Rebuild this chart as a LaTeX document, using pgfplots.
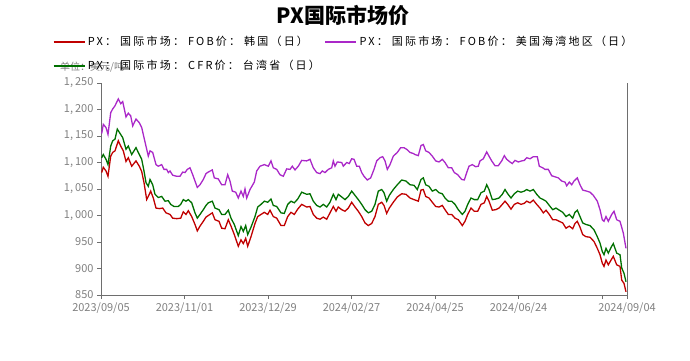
\documentclass[border=0pt]{standalone}
\usepackage{fontspec}
\setmainfont{Noto Sans CJK SC}
\newfontfamily\legfont{Noto Sans CJK SC}[LetterSpace=20]
\usepackage{pgfplots}
\usepackage{pgfplotstable}
\pgfplotsset{compat=1.18}
\definecolor{cred}{RGB}{192,0,0}
\definecolor{cpur}{RGB}{170,40,200}
\definecolor{cgrn}{RGB}{0,112,0}
\definecolor{axgray}{RGB}{110,110,110}
\definecolor{lblgray}{RGB}{128,128,128}
\newcommand\cc{：\hspace{4pt}}

\pgfplotstableread{
x y
101.7 1154.7
103.3 1172
106 1166
108 1153
110.7 1194
112.7 1201
115 1207
118.3 1220
120.7 1211
122.7 1215
126 1186
128.3 1193
130.7 1188
132.7 1169
136 1182
139.3 1175
141.7 1166
144 1147
146.7 1125
148.3 1112
150 1122
152.7 1119
156 1096
158.3 1093
161.7 1096
164 1087
166.7 1087
168.3 1081
170 1084
172.7 1076
176.7 1074
180 1074
182.7 1082
185 1081
187.3 1087
190 1090
192.7 1077
195 1065
197.3 1053
200 1058
203.3 1068
206 1079
208.3 1082
212.3 1086
214.3 1071
218.3 1069
221.7 1058
225 1058
227.7 1077
230 1065
232.3 1046
235.7 1044
238.3 1033
241 1046
243.3 1036
245 1050
246.7 1033
250 1049
254.3 1063
256.7 1084
260 1093
264.3 1096
268.3 1093
271 1103
273.3 1090
276.7 1087
280 1077
283.3 1074
286.7 1088
290 1087
292.3 1093
295 1086
298.3 1093
301.7 1104
306.7 1103
310 1106
313.3 1090
316.7 1081
320 1079
322.3 1084
325 1081
328.3 1087
331.7 1090
333.3 1103
335 1093
337.3 1101
341.7 1100
343.3 1093
346.7 1100
349.3 1098
351.7 1107
354 1106
356.7 1093
359.3 1093
361.7 1081
364 1074
367.3 1067
370.7 1071
374 1087
376.7 1103
380 1109
382.7 1111
385 1103
387.3 1087
390 1096
393.3 1112
397.3 1119
400.7 1128
404 1128
407.3 1124
410 1119
413.3 1117
415 1115
418.3 1113
421 1132
423.3 1134
425.7 1122
429 1119
432.3 1112
435.7 1103
439 1101
442.3 1106
445 1100
448.3 1090
451.7 1090
454.3 1081
457.7 1077
461.7 1068
464.3 1067
466.7 1081
469 1093
472.3 1096
475.7 1092
478.3 1093
480 1103
483.3 1107
486.7 1120
489 1112
491.7 1103
495 1094
498.3 1094
501.7 1103
504.3 1113
506.7 1106
510 1101
512.3 1098
515 1104
518.3 1101
521.7 1103
524.3 1104
526.7 1109
530 1107
533.3 1111
537.3 1111
539.3 1093
542.7 1090
545 1087
548.3 1087
551.7 1075
555 1073
558.3 1071
561.7 1065
565 1063
566.7 1056
569.3 1063
571.7 1058
574 1065
577.3 1071
580 1058
582.7 1048
586.7 1046
590 1044
593.3 1038
597.3 1027
600 1011
602.3 992
604 989
606 998
608.3 989
611.7 1002
614 1008
616.7 992
620 989
623.3 967
626 938
}\usgulf

\pgfplotstableread{
x y
101.7 1109
103.3 1115
106 1106
108 1096
110.7 1131
112.7 1141
115 1144
117.3 1163
119.3 1157
122.7 1147
126 1125
128.3 1131
131.7 1115
136 1128
139.3 1115
141.7 1106
144 1084
146 1062
148.3 1055
150 1068
152.7 1058
155 1040
158.3 1034
161.7 1036
165 1027
168.3 1028
170.7 1021
174 1017
178.3 1017
180.7 1021
183.3 1030
186 1027
188.3 1030
191.7 1024
195 1005
197.3 995
200 1002
203.3 1011
206 1019
208.3 1024
212.3 1027
215 1014
219 1011
221.7 1002
225 1002
228.3 1010
231 995
234.3 983
238.3 962
241 979
243.3 970
245.7 981
247.7 964
251 978
255 998
257.7 1016
261 1021
264.3 1027
267.7 1025
271 1031
273.3 1019
276.7 1017
281 1005
284.3 1004
287.7 1021
291 1027
294.3 1024
297.7 1031
301.7 1044
306.7 1040
310 1041
313.3 1027
316.7 1019
320 1016
323.3 1021
326.7 1016
330 1025
333.3 1040
336 1030
338.3 1040
341.7 1035
345 1030
348.3 1036
351.7 1046
355 1038
358.3 1030
361.7 1021
365 1011
368.3 1005
371.7 1008
375 1021
378.3 1046
381.7 1049
384 1043
386.7 1027
389.3 1038
393.3 1049
397.3 1058
401.7 1067
406 1065
410 1058
414 1057
417.3 1049
421 1068
423.3 1071
425.7 1058
429 1055
432.3 1046
435.7 1049
439 1043
442.3 1041
445 1033
448.3 1027
451.7 1027
455 1021
458.3 1011
462.3 1002
465 1008
467.7 1021
471 1033
474.3 1030
477.7 1030
481 1043
484.3 1046
486.7 1058
489 1049
492.3 1030
495.7 1031
499 1033
502.3 1040
505 1049
507.7 1041
511 1033
514.3 1041
517.7 1046
521 1044
524.3 1046
526.7 1049
530 1046
533.3 1049
536.7 1040
540 1033
543.3 1030
546 1027
549.3 1019
552.7 1011
556 1014
559.3 1010
562.7 1006
566 998
569.3 1002
572.7 995
575 1006
577.3 1010
580 998
582.7 986
586 983
590 981
594 973
597.3 960
600 948
602.3 932
604 926
606 938
608.3 929
611.7 942
613.3 947
616.7 929
620 926
621.7 901
624 891
626 875
}\taiwan

\pgfplotstableread{
x y
101.7 1081
103.3 1091
106 1084
108 1074
110.7 1112
112.7 1119
115 1122
118.3 1141
120.7 1131
123.3 1122
126 1102
128.3 1109
131.7 1093
136 1103
139.3 1093
141.7 1083
144 1062
146.7 1030
149.3 1040
150.7 1046
153.3 1033
156 1014
159.3 1013
162.7 1014
166 1005
170 1002
172.7 995
176.7 994
180.7 995
183.3 1007
186 1002
188.3 1009
191.7 998
195 983
197.3 971
200 980
203.3 989
206 997
208.3 1000
212.3 1005
215 992
219 989
221.7 976
225 975
228.3 992
231 980
234.3 964
238.3 942
241 954
243.3 947
245.7 957
247.7 942
251 960
255 985
257.7 998
261 1002
264.3 1006
267.7 1002
270 1010
273.3 998
276.7 995
281 981
284.3 981
287.7 998
291 1006
294.3 1002
297.7 1012
301.7 1021
306.7 1016
310 1017
313.3 1002
316.7 995
320 993
323.3 997
326.7 993
330 1005
333.3 1017
336 1008
338.3 1016
341.7 1011
345 1008
348.3 1014
351.7 1025
355 1016
358.3 1008
361.7 998
365 986
368.3 981
371.7 985
375 998
378.3 1021
381.7 1025
384 1019
386.7 1004
389.3 1014
393.3 1025
397.3 1035
401.7 1041
406 1040
410 1033
414 1030
418.3 1027
421 1048
423.3 1049
425.7 1036
429 1033
432.3 1025
435.7 1017
439 1016
442.3 1019
445 1011
448.3 1002
451.7 1002
455 995
458.3 992
462.3 981
465 989
467.7 1002
471 1014
474.3 1008
477.7 1008
481 1021
484.3 1024
486.7 1036
489 1027
492.3 1010
495.7 1011
499 1014
502.3 1021
505 1027
507.7 1021
511 1012
514.3 1021
517.7 1024
521 1021
524.3 1023
526.7 1027
530 1024
533.3 1029
536.7 1021
540 1014
543.3 1005
546 1010
549.3 1002
552.7 992
556 992
559.3 989
562.7 986
566 976
569.3 980
572.7 975
575 985
577.3 989
580 978
582.7 964
586 960
590 959
594 951
597.3 938
600 926
602.3 910
604 904
606 916
608.3 907
611.7 918
613.3 923
616.7 907
620 904
621.7 878
624 872
626 856
}\korea

\begin{document}
\begin{tikzpicture}
\path[use as bounding box] (0pt,0pt) rectangle (690pt,-361pt);
\node[font=\fontsize{21}{24}\selectfont\bfseries] at (343pt,-15pt) {PX国际市场价};
\node[anchor=west, text=lblgray, font=\fontsize{10}{12}\selectfont, inner sep=0pt] at (60pt,-67pt) {单位：美元/吨};
\begin{axis}[
  at={(101pt,-295pt)}, anchor=south west,
  scale only axis, width=526pt, height=212pt,
  xmin=101, xmax=627, ymin=850, ymax=1250,
  axis x line*=bottom, axis y line*=left,
  axis line style={axgray, line width=0.8pt},
  tick style={axgray, line width=0.8pt},
  tick align=outside, major tick length=4pt,
  xtick={101,184.5,268,351.5,435,518.5,602,627},
  xticklabels={2023/09/05,2023/11/01,2023/12/29,2024/02/27,2024/04/25,2024/06/24,,2024/09/04},
  ytick={850,900,...,1250},
  ticklabel style={font=\fontsize{11}{13}\selectfont, text=lblgray},
  /pgf/number format/.cd, 1000 sep={,\hspace{2pt}}, assume math mode=true,
  /pgfplots/.cd,
  legend columns=2,
  legend cell align=left,
  legend image code/.code={\draw[#1, line width=2.6pt] (0pt,0pt) -- (31pt,0pt);},
  legend style={at={(axis description cs:-0.093,1.23)}, anchor=north west,
    draw=none, fill=none, inner sep=0pt,
    font=\legfont\fontsize{11}{13}\selectfont,
    row sep=9pt,
    /tikz/every even column/.append style={column sep=2pt}},
  clip=false,
]
\addplot[cred, line width=1.3pt] table[x=x,y=y] {\korea};
\addlegendentry{PX\cc 国际市场\cc FOB价\cc 韩国（日）}
\addplot[cpur, line width=1.3pt] table[x=x,y=y] {\usgulf};
\addlegendentry{PX\cc 国际市场\cc FOB价\cc 美国海湾地区（日）}
\addplot[cgrn, line width=1.3pt] table[x=x,y=y] {\taiwan};
\addlegendentry{PX\cc 国际市场\cc CFR价\cc 台湾省（日）}
\draw[axgray, line width=0.8pt] (rel axis cs:1,0) -- (rel axis cs:1,1);
\end{axis}
\end{tikzpicture}
\end{document}
